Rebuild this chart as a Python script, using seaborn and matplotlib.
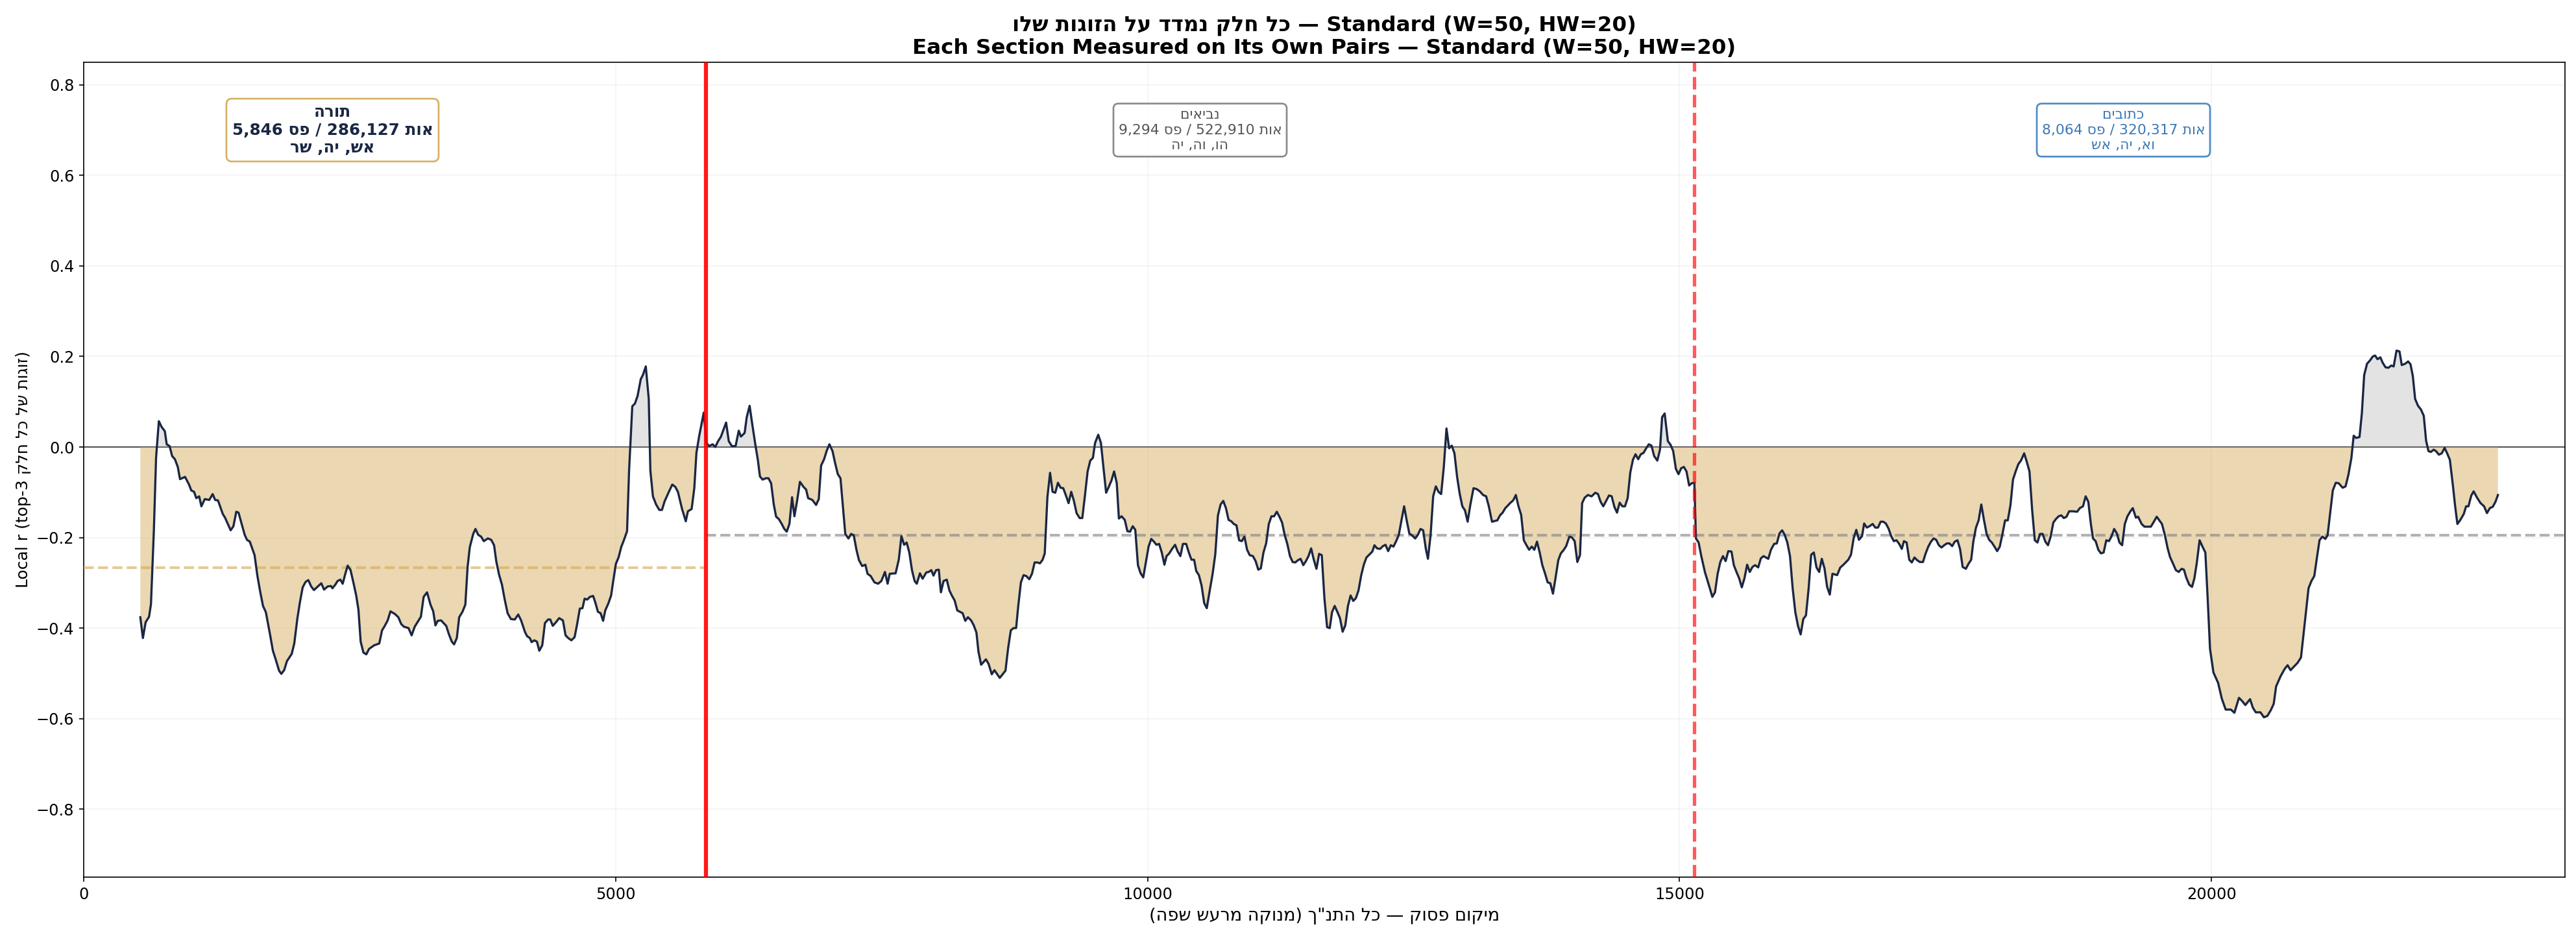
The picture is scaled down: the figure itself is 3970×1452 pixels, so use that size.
import numpy as np
import pandas as pd
import matplotlib
matplotlib.use('Agg')
import matplotlib.pyplot as plt
import seaborn as sns

# local r per verse position, split by section
torah_pts = [
    (532, -0.376), (556, -0.422), (582, -0.387), (614, -0.375), (632, -0.347), (659, -0.186),
    (680, -0.024), (706, 0.057), (733, 0.044), (762, 0.035), (780, 0.006), (807, 0.002),
    (831, -0.020), (857, -0.027), (884, -0.044), (905, -0.071), (952, -0.066), (990, -0.083),
    (1011, -0.096), (1037, -0.099), (1058, -0.113), (1085, -0.109), (1106, -0.131), (1138, -0.115),
    (1180, -0.117), (1212, -0.104), (1235, -0.117), (1262, -0.118), (1307, -0.148), (1328, -0.156),
    (1381, -0.184), (1407, -0.175), (1434, -0.143), (1455, -0.145), (1513, -0.194), (1534, -0.205),
    (1561, -0.209), (1606, -0.239), (1632, -0.284), (1659, -0.320), (1685, -0.351), (1712, -0.365),
    (1751, -0.414), (1778, -0.450), (1804, -0.469), (1836, -0.494), (1857, -0.501), (1884, -0.493),
    (1910, -0.473), (1955, -0.457), (1979, -0.434), (2008, -0.379), (2032, -0.343), (2058, -0.310),
    (2085, -0.298), (2111, -0.294), (2138, -0.308), (2164, -0.316), (2201, -0.308), (2233, -0.301),
    (2259, -0.315), (2293, -0.308), (2323, -0.307), (2338, -0.312), (2365, -0.304), (2386, -0.296),
    (2412, -0.293), (2434, -0.302), (2460, -0.279), (2481, -0.262), (2508, -0.272), (2539, -0.304),
    (2561, -0.328), (2582, -0.359), (2603, -0.430), (2629, -0.454), (2656, -0.458), (2682, -0.446),
    (2730, -0.438), (2778, -0.434), (2804, -0.405), (2825, -0.397), (2857, -0.383), (2883, -0.363),
    (2926, -0.369), (2957, -0.376), (2984, -0.391), (3010, -0.397), (3053, -0.400), (3082, -0.416),
    (3111, -0.397), (3137, -0.387), (3169, -0.375), (3195, -0.331), (3227, -0.321), (3259, -0.348),
    (3285, -0.363), (3306, -0.394), (3327, -0.384), (3359, -0.383), (3407, -0.395), (3433, -0.414),
    (3460, -0.430), (3481, -0.436), (3507, -0.422), (3529, -0.376), (3560, -0.364), (3587, -0.348),
    (3608, -0.265), (3629, -0.221), (3661, -0.192), (3682, -0.181), (3708, -0.194), (3735, -0.198),
    (3761, -0.208), (3798, -0.202), (3830, -0.205), (3857, -0.217), (3878, -0.253), (3904, -0.282),
    (3931, -0.304), (3957, -0.337), (3984, -0.367), (4015, -0.380), (4052, -0.381), (4084, -0.370),
    (4111, -0.383), (4148, -0.409), (4168, -0.418), (4193, -0.422), (4210, -0.431), (4235, -0.427),
    (4260, -0.430), (4282, -0.450), (4310, -0.438), (4335, -0.389), (4365, -0.381), (4385, -0.381),
    (4409, -0.395), (4439, -0.387), (4469, -0.378), (4504, -0.383), (4529, -0.416), (4554, -0.422),
    (4584, -0.427), (4614, -0.420), (4638, -0.391), (4663, -0.357), (4688, -0.356), (4708, -0.335),
    (4733, -0.337), (4758, -0.331), (4788, -0.329), (4808, -0.343), (4833, -0.364), (4858, -0.367),
    (4882, -0.384), (4902, -0.361), (4932, -0.345), (4957, -0.328), (4977, -0.296), (5002, -0.258),
    (5027, -0.244), (5052, -0.221), (5077, -0.206), (5107, -0.186), (5126, -0.052), (5156, 0.090),
    (5181, 0.096), (5206, 0.113), (5236, 0.150), (5256, 0.159), (5283, 0.178), (5311, 0.106),
    (5326, -0.052), (5350, -0.109), (5380, -0.127), (5410, -0.139), (5435, -0.139), (5460, -0.120),
    (5500, -0.099), (5532, -0.083), (5560, -0.088), (5585, -0.099), (5624, -0.137), (5659, -0.164),
    (5679, -0.142), (5714, -0.137), (5739, -0.091), (5759, -0.013), (5784, 0.023), (5828, 0.076),
]

neviim_pts = [
    (5853, 0.009), (5878, 0.002), (5911, 0.006), (5936, 0.000), (5963, 0.013), (5988, 0.022),
    (6010, 0.036), (6038, 0.054), (6063, 0.013), (6092, 0.002), (6127, 0.002), (6157, 0.036),
    (6177, 0.023), (6212, 0.031), (6232, 0.066), (6259, 0.091), (6284, 0.050), (6317, -0.001),
    (6336, -0.028), (6356, -0.065), (6381, -0.072), (6411, -0.069), (6436, -0.069), (6461, -0.080),
    (6486, -0.127), (6508, -0.154), (6533, -0.159), (6561, -0.170), (6585, -0.181), (6608, -0.187),
    (6633, -0.170), (6658, -0.111), (6680, -0.153), (6705, -0.119), (6732, -0.077), (6765, -0.088),
    (6790, -0.094), (6809, -0.113), (6849, -0.117), (6884, -0.128), (6909, -0.115), (6931, -0.041),
    (6959, -0.027), (6984, -0.008), (7009, 0.006), (7038, -0.009), (7063, -0.036), (7088, -0.060),
    (7113, -0.069), (7133, -0.123), (7158, -0.192), (7188, -0.202), (7213, -0.192), (7238, -0.195),
    (7263, -0.227), (7287, -0.250), (7317, -0.263), (7347, -0.260), (7367, -0.280), (7397, -0.285),
    (7432, -0.299), (7467, -0.302), (7497, -0.296), (7531, -0.276), (7556, -0.302), (7576, -0.280),
    (7631, -0.279), (7661, -0.249), (7686, -0.197), (7711, -0.216), (7735, -0.211), (7760, -0.233),
    (7785, -0.272), (7810, -0.296), (7830, -0.302), (7860, -0.279), (7885, -0.291), (7920, -0.277),
    (7942, -0.276), (7967, -0.272), (7987, -0.284), (8012, -0.272), (8037, -0.271), (8057, -0.321),
    (8082, -0.296), (8112, -0.293), (8137, -0.317), (8162, -0.329), (8186, -0.339), (8211, -0.361),
    (8261, -0.367), (8286, -0.384), (8311, -0.376), (8341, -0.383), (8366, -0.394), (8391, -0.410),
    (8410, -0.452), (8435, -0.481), (8480, -0.469), (8505, -0.479), (8535, -0.502), (8560, -0.493),
    (8610, -0.510), (8664, -0.494), (8689, -0.444), (8714, -0.405), (8739, -0.400), (8764, -0.400),
    (8784, -0.351), (8809, -0.299), (8834, -0.283), (8859, -0.285), (8888, -0.292), (8913, -0.280),
    (8938, -0.255), (8963, -0.255), (8988, -0.257), (9013, -0.249), (9033, -0.235), (9058, -0.111),
    (9083, -0.057), (9107, -0.099), (9132, -0.101), (9157, -0.079), (9182, -0.090), (9207, -0.091),
    (9232, -0.107), (9257, -0.124), (9282, -0.099), (9307, -0.119), (9332, -0.146), (9361, -0.157),
    (9386, -0.157), (9411, -0.107), (9436, -0.054), (9461, -0.030), (9486, -0.024), (9506, 0.009),
    (9536, 0.027), (9561, 0.009), (9586, -0.048), (9610, -0.101), (9635, -0.088), (9660, -0.074),
    (9685, -0.054), (9710, -0.080), (9730, -0.158), (9755, -0.153), (9785, -0.161), (9810, -0.186),
    (9835, -0.187), (9860, -0.175), (9884, -0.183), (9909, -0.261), (9934, -0.279), (9959, -0.288),
    (9984, -0.254), (10009, -0.220), (10034, -0.203), (10059, -0.209), (10083, -0.216), (10108, -0.214),
    (10133, -0.233), (10158, -0.260), (10178, -0.241), (10203, -0.235), (10233, -0.224), (10258, -0.216),
    (10283, -0.231), (10308, -0.241), (10332, -0.214), (10362, -0.214), (10387, -0.233), (10412, -0.249),
    (10437, -0.249), (10457, -0.274), (10482, -0.283), (10507, -0.306), (10532, -0.345), (10556, -0.356),
    (10581, -0.321), (10611, -0.280), (10636, -0.237), (10661, -0.151), (10686, -0.127), (10711, -0.119),
    (10736, -0.135), (10761, -0.161), (10786, -0.164), (10810, -0.170), (10835, -0.173), (10860, -0.206),
    (10885, -0.208), (10910, -0.198), (10935, -0.227), (10960, -0.239), (10990, -0.241), (11015, -0.252),
    (11040, -0.271), (11064, -0.268), (11089, -0.233), (11114, -0.213), (11139, -0.170), (11164, -0.153),
    (11189, -0.153), (11214, -0.143), (11239, -0.154), (11264, -0.167), (11288, -0.194), (11313, -0.214),
    (11338, -0.241), (11363, -0.254), (11388, -0.255), (11413, -0.250), (11438, -0.247), (11463, -0.261),
    (11488, -0.252), (11512, -0.241), (11537, -0.224), (11562, -0.249), (11587, -0.269), (11612, -0.236),
    (11637, -0.239), (11662, -0.335), (11687, -0.398), (11712, -0.400), (11733, -0.365), (11758, -0.351),
    (11783, -0.364), (11808, -0.378), (11833, -0.408), (11858, -0.394), (11883, -0.351), (11908, -0.328),
    (11933, -0.340), (11957, -0.334), (11982, -0.317), (12007, -0.284), (12032, -0.260), (12057, -0.244),
    (12082, -0.238), (12112, -0.231), (12132, -0.217), (12157, -0.224), (12186, -0.225), (12211, -0.219),
    (12236, -0.216), (12261, -0.230), (12286, -0.217), (12311, -0.220), (12336, -0.208), (12361, -0.194),
    (12386, -0.162), (12411, -0.131), (12435, -0.162), (12460, -0.191), (12485, -0.195), (12515, -0.202),
    (12540, -0.194), (12565, -0.181), (12590, -0.184), (12615, -0.225), (12635, -0.247), (12660, -0.194),
    (12684, -0.109), (12709, -0.087), (12734, -0.099), (12759, -0.104), (12784, -0.044), (12809, 0.041),
    (12834, -0.003), (12859, 0.003), (12884, -0.014), (12909, -0.066), (12933, -0.103), (12958, -0.131),
    (12983, -0.140), (13008, -0.165), (13033, -0.128), (13063, -0.091), (13093, -0.093), (13123, -0.098),
    (13153, -0.106), (13182, -0.109), (13207, -0.131), (13237, -0.165), (13287, -0.162), (13312, -0.151),
    (13337, -0.145), (13362, -0.135), (13387, -0.129), (13411, -0.123), (13436, -0.118), (13461, -0.106),
    (13486, -0.131), (13511, -0.150), (13536, -0.206), (13561, -0.217), (13586, -0.227), (13611, -0.220),
    (13635, -0.227), (13660, -0.209), (13685, -0.233), (13710, -0.261), (13735, -0.279), (13760, -0.299),
    (13785, -0.301), (13810, -0.324), (13835, -0.288), (13860, -0.250), (13884, -0.235), (13909, -0.228),
    (13934, -0.219), (13964, -0.198), (13989, -0.200), (14014, -0.208), (14039, -0.254), (14064, -0.239),
    (14084, -0.124), (14108, -0.112), (14138, -0.106), (14173, -0.109), (14208, -0.101), (14233, -0.104),
    (14258, -0.121), (14283, -0.131), (14308, -0.120), (14337, -0.107), (14362, -0.109), (14387, -0.132),
    (14412, -0.145), (14437, -0.123), (14462, -0.131), (14487, -0.131), (14512, -0.113), (14537, -0.056),
    (14562, -0.028), (14586, -0.016), (14611, -0.027), (14636, -0.016), (14661, -0.013), (14686, -0.003),
    (14711, 0.006), (14736, 0.003), (14761, -0.020), (14791, -0.030), (14816, -0.006), (14836, 0.066),
    (14860, 0.074), (14890, 0.013), (14915, 0.005), (14940, -0.009), (14965, -0.048), (14990, -0.060),
    (15015, -0.047), (15040, -0.044), (15065, -0.054), (15090, -0.085), (15114, -0.080), (15139, -0.079),
]

ketuvim_pts = [
    (15154, -0.202), (15179, -0.211), (15204, -0.241), (15239, -0.277), (15274, -0.304), (15308, -0.331),
    (15333, -0.321), (15358, -0.280), (15383, -0.254), (15408, -0.241), (15433, -0.252), (15458, -0.230),
    (15488, -0.231), (15510, -0.261), (15535, -0.276), (15560, -0.290), (15585, -0.310), (15610, -0.290),
    (15635, -0.260), (15660, -0.276), (15685, -0.265), (15710, -0.261), (15739, -0.266), (15764, -0.246),
    (15789, -0.241), (15834, -0.247), (15859, -0.227), (15889, -0.214), (15914, -0.213), (15939, -0.191),
    (15964, -0.184), (15988, -0.194), (16013, -0.211), (16038, -0.241), (16063, -0.312), (16088, -0.365),
    (16113, -0.395), (16138, -0.414), (16163, -0.380), (16188, -0.372), (16213, -0.313), (16237, -0.238),
    (16262, -0.233), (16287, -0.266), (16312, -0.276), (16337, -0.247), (16362, -0.268), (16387, -0.309),
    (16412, -0.326), (16437, -0.280), (16481, -0.283), (16511, -0.266), (16536, -0.261), (16561, -0.255),
    (16586, -0.249), (16611, -0.238), (16636, -0.202), (16661, -0.183), (16686, -0.205), (16715, -0.197),
    (16735, -0.169), (16760, -0.178), (16785, -0.175), (16815, -0.170), (16840, -0.178), (16865, -0.178),
    (16890, -0.165), (16915, -0.165), (16939, -0.169), (16964, -0.180), (16989, -0.197), (17014, -0.208),
    (17039, -0.206), (17064, -0.214), (17089, -0.225), (17109, -0.208), (17134, -0.211), (17159, -0.249),
    (17183, -0.255), (17208, -0.244), (17233, -0.250), (17258, -0.254), (17288, -0.254), (17313, -0.235),
    (17338, -0.220), (17363, -0.209), (17388, -0.202), (17412, -0.205), (17437, -0.217), (17462, -0.222),
    (17487, -0.217), (17512, -0.213), (17537, -0.213), (17562, -0.219), (17587, -0.209), (17612, -0.206),
    (17636, -0.225), (17661, -0.265), (17691, -0.269), (17716, -0.258), (17741, -0.249), (17761, -0.209),
    (17786, -0.178), (17811, -0.162), (17836, -0.127), (17861, -0.161), (17886, -0.192), (17910, -0.205),
    (17935, -0.211), (17960, -0.220), (17985, -0.230), (18010, -0.220), (18035, -0.192), (18060, -0.162),
    (18085, -0.162), (18110, -0.129), (18134, -0.072), (18159, -0.054), (18184, -0.038), (18209, -0.030),
    (18239, -0.014), (18264, -0.033), (18289, -0.054), (18314, -0.139), (18339, -0.206), (18364, -0.211),
    (18388, -0.192), (18413, -0.192), (18438, -0.209), (18463, -0.217), (18488, -0.198), (18513, -0.167),
    (18538, -0.159), (18563, -0.153), (18588, -0.151), (18612, -0.157), (18637, -0.154), (18662, -0.142),
    (18697, -0.142), (18737, -0.143), (18762, -0.135), (18792, -0.131), (18817, -0.109), (18842, -0.121),
    (18866, -0.170), (18886, -0.202), (18911, -0.208), (18936, -0.227), (18961, -0.235), (18986, -0.233),
    (19011, -0.206), (19036, -0.208), (19061, -0.197), (19085, -0.181), (19110, -0.191), (19135, -0.211),
    (19160, -0.217), (19185, -0.170), (19210, -0.153), (19235, -0.143), (19260, -0.135), (19275, -0.146),
    (19289, -0.156), (19310, -0.154), (19343, -0.170), (19370, -0.176), (19430, -0.176), (19458, -0.165),
    (19485, -0.154), (19534, -0.170), (19561, -0.194), (19588, -0.224), (19610, -0.243), (19637, -0.257),
    (19665, -0.272), (19692, -0.276), (19719, -0.269), (19741, -0.271), (19762, -0.288), (19790, -0.304),
    (19817, -0.309), (19839, -0.290), (19861, -0.257), (19888, -0.206), (19915, -0.220), (19942, -0.233),
    (19964, -0.335), (19986, -0.446), (20018, -0.498), (20062, -0.521), (20097, -0.556), (20133, -0.580),
    (20182, -0.580), (20215, -0.587), (20258, -0.554), (20291, -0.562), (20318, -0.570), (20362, -0.557),
    (20389, -0.576), (20416, -0.586), (20460, -0.586), (20492, -0.597), (20525, -0.594), (20558, -0.581),
    (20585, -0.567), (20607, -0.529), (20650, -0.506), (20688, -0.490), (20715, -0.482), (20743, -0.493),
    (20775, -0.485), (20808, -0.477), (20841, -0.465), (20863, -0.418), (20890, -0.359), (20912, -0.312),
    (20939, -0.296), (20966, -0.285), (20988, -0.249), (21015, -0.206), (21042, -0.198), (21070, -0.203),
    (21091, -0.195), (21113, -0.150), (21140, -0.096), (21168, -0.079), (21195, -0.080), (21233, -0.090),
    (21260, -0.087), (21287, -0.061), (21315, -0.024), (21336, 0.025), (21358, 0.020), (21391, 0.022),
    (21413, 0.074), (21435, 0.159), (21462, 0.184), (21489, 0.191), (21516, 0.200), (21538, 0.202),
    (21560, 0.194), (21587, 0.198), (21609, 0.186), (21636, 0.176), (21663, 0.175), (21690, 0.180),
    (21712, 0.178), (21739, 0.213), (21767, 0.211), (21788, 0.181), (21821, 0.184), (21848, 0.189),
    (21870, 0.183), (21892, 0.157), (21914, 0.106), (21941, 0.091), (21968, 0.083), (21995, 0.069),
    (22017, 0.014), (22039, -0.009), (22061, -0.011), (22088, -0.006), (22110, -0.009), (22137, -0.017),
    (22164, -0.014), (22191, -0.002), (22213, -0.013), (22240, -0.028), (22268, -0.083), (22289, -0.129),
    (22311, -0.170), (22339, -0.161), (22371, -0.148), (22393, -0.131), (22415, -0.131), (22442, -0.107),
    (22464, -0.098), (22496, -0.112), (22529, -0.124), (22562, -0.131), (22589, -0.146), (22616, -0.135),
    (22644, -0.132), (22671, -0.120), (22692, -0.106),
]

# sections: verse counts and mean local r
section_verses = [5846, 9294, 8064]
section_means = [-0.267, -0.195, -0.195]

# box texts (Hebrew written in display order, matplotlib has no bidi)
box_names = ['הרות', 'םיאיבנ', 'םיבותכ']
box_counts = ['5,846 ספ / 286,127 תוא', '9,294 ספ / 522,910 תוא', '8,064 ספ / 320,317 תוא']
box_pairs = ['רש ,הי ,שא', 'הי ,הו ,וה', 'שא ,הי ,או']

title_he = 'ולש תוגוזה לע דדמנ קלח לכ — Standard (W=50, HW=20)'
title_en = 'Each Section Measured on Its Own Pairs — Standard (W=50, HW=20)'
x_label = '(הפש שערמ הקונמ) ך"נתה לכ — קוספ םוקימ'
y_label = 'Local r (top-3 קלח לכ לש תוגוז)'

NAVY = '#1a2744'
GOLD = '#d4a853'
box_edge = [GOLD, '#7f7f7f', '#3f7fbf']
box_text = [NAVY, '#555555', '#3a78b5']
box_weight = ['bold', 'normal', 'normal']
box_size = [11.8, 10.5, 10.5]
mean_color = [GOLD, 'grey', 'grey']

df = pd.DataFrame(torah_pts + neviim_pts + ketuvim_pts, columns=['verse', 'r'])

bounds = np.concatenate([[0], np.cumsum(section_verses)])
x_max = bounds[-1] * 1.005

fig, ax = plt.subplots(figsize=(26.47, 9.68), dpi=150)
fig.subplots_adjust(left=0.0325, right=0.9955, bottom=0.0689, top=0.934)

ax.axhline(0, color='#555555', lw=1, zorder=1)

#Shade below / above zero
ax.fill_between(df.verse, df.r, 0, where=df.r < 0, interpolate=True,
                color=GOLD, alpha=0.45, lw=0, zorder=2)
ax.fill_between(df.verse, df.r, 0, where=df.r > 0, interpolate=True,
                color='#b0b0b0', alpha=0.35, lw=0, zorder=2)

sns.lineplot(data=df, x='verse', y='r', color=NAVY, lw=1.6, ax=ax,
             estimator=None, errorbar=None, sort=False, zorder=4)

#Section means
for i in range(3):
    end = bounds[i + 1] if i < 2 else x_max
    ax.hlines(section_means[i], bounds[i], end, colors=mean_color[i],
              linestyles='--', lw=2, alpha=0.6, zorder=3)

#Section boundaries
ax.axvline(bounds[1], color='red', lw=3, alpha=0.9, zorder=5)
ax.axvline(bounds[2], color='red', ls='--', lw=2.5, alpha=0.65, zorder=5)

#Section info boxes
box_x = [bounds[1] * 0.4, (bounds[1] + bounds[2]) / 2, (bounds[2] + bounds[3]) / 2]
for i in range(3):
    ax.text(box_x[i], 0.70, '\n'.join([box_names[i], box_counts[i], box_pairs[i]]),
            ha='center', va='center', fontsize=box_size[i], color=box_text[i],
            fontweight=box_weight[i], zorder=6,
            bbox=dict(boxstyle='round,pad=0.35', fc='white', ec=box_edge[i], lw=1.3, alpha=0.9))

ax.set_xlim(0, x_max)
ax.set_ylim(-0.95, 0.85)
ax.grid(True, alpha=0.15, lw=0.8)
ax.set_axisbelow(True)
ax.tick_params(labelsize=11.5)

ax.set_title(title_he + '\n' + title_en, fontsize=15.6, fontweight='bold')
ax.set_xlabel(x_label, fontsize=13)
ax.set_ylabel(y_label, fontsize=12)

plt.savefig('out.png', dpi=150)
